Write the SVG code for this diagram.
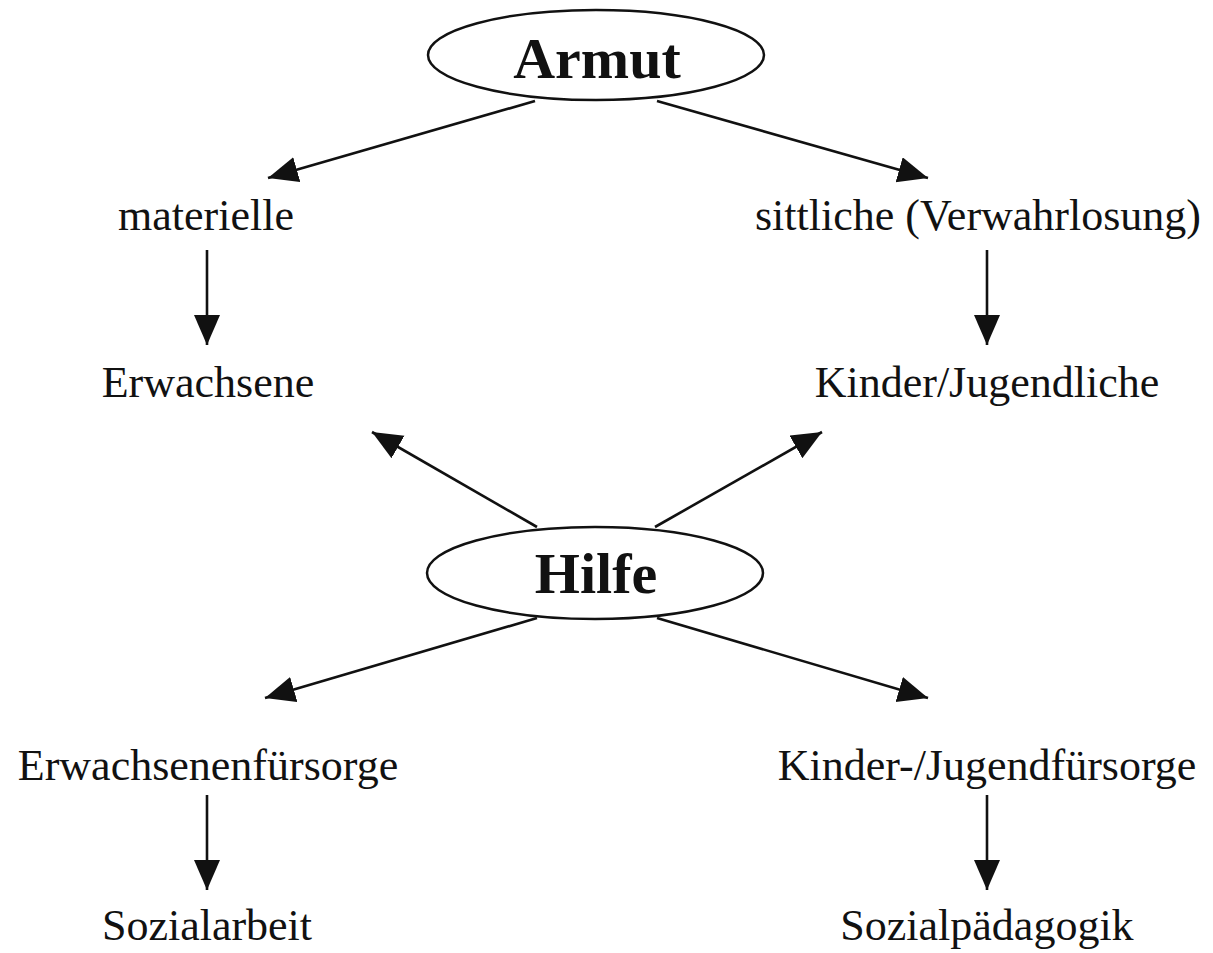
<svg xmlns="http://www.w3.org/2000/svg" width="1213" height="953" viewBox="0 0 1213 953">
<style>
.lbl{font-family:"Liberation Serif","DejaVu Serif",serif;font-size:44px;fill:#111;text-anchor:middle}
.big{font-family:"Liberation Serif","DejaVu Serif",serif;font-size:58px;font-weight:bold;fill:#111;text-anchor:middle}
.ell{fill:#fff;stroke:#111;stroke-width:2.5}
.con{stroke:#111;stroke-width:2.6;fill:none;marker-end:url(#ah)}
</style>
<defs>
<marker id="ah" markerUnits="userSpaceOnUse" markerWidth="32" markerHeight="28" refX="30" refY="13" orient="auto">
<path d="M0,0 L30,13 L0,26 Z" fill="#111"/>
</marker>
</defs>
<g id="connectors">
<line class="con" x1="535" y1="101" x2="268" y2="178"/>
<line class="con" x1="657" y1="101" x2="928" y2="178"/>
<line class="con" x1="207" y1="250" x2="207" y2="345"/>
<line class="con" x1="987" y1="250" x2="987" y2="345"/>
<line class="con" x1="537" y1="527" x2="372" y2="432"/>
<line class="con" x1="655" y1="527" x2="822" y2="432"/>
<line class="con" x1="537" y1="618" x2="265" y2="698"/>
<line class="con" x1="657" y1="618" x2="928" y2="698"/>
<line class="con" x1="207" y1="795" x2="207" y2="890"/>
<line class="con" x1="987" y1="795" x2="987" y2="890"/>
</g>
<g id="armut">
<ellipse class="ell" cx="596" cy="55" rx="168" ry="45"/>
<text class="big" x="597" y="78">Armut</text>
</g>
<g id="materielle"><text class="lbl" x="206" y="230">materielle</text></g>
<g id="sittliche"><text class="lbl" x="978" y="230">sittliche (Verwahrlosung)</text></g>
<g id="erwachsene"><text class="lbl" x="208" y="397">Erwachsene</text></g>
<g id="kinder"><text class="lbl" x="987" y="397">Kinder/Jugendliche</text></g>
<g id="hilfe">
<ellipse class="ell" cx="595" cy="573" rx="168" ry="46"/>
<text class="big" x="596" y="593">Hilfe</text>
</g>
<g id="erwachsenenfuersorge"><text class="lbl" x="208" y="780">Erwachsenenfürsorge</text></g>
<g id="kinderfuersorge"><text class="lbl" x="987" y="780">Kinder-/Jugendfürsorge</text></g>
<g id="sozialarbeit"><text class="lbl" x="207" y="940">Sozialarbeit</text></g>
<g id="sozialpaedagogik"><text class="lbl" x="987" y="940">Sozialpädagogik</text></g>
</svg>
